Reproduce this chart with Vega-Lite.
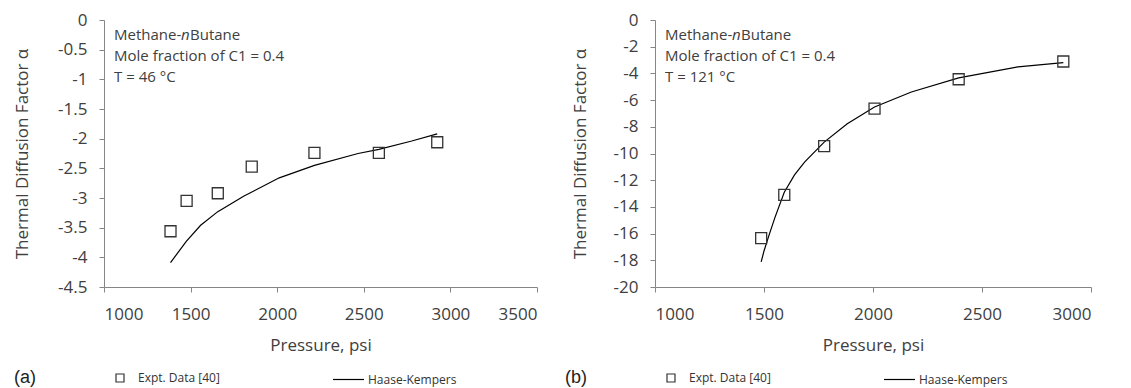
{
  "$schema": "https://vega.github.io/schema/vega-lite/v6.json",
  "padding": {"left": 13, "top": 11, "right": 3, "bottom": 0},
  "background": "white",
  "spacing": 27,
  "config": {
    "view": {"stroke": null},
    "font": "Open Sans",
    "axis": {
      "grid": false,
      "domainColor": "#868686",
      "tickColor": "#868686",
      "tickSize": 5,
      "labelFont": "Open Sans",
      "labelFontSize": 17,
      "labelColor": "#404040",
      "titleFont": "Open Sans",
      "titleFontSize": 17,
      "titleFontWeight": "normal",
      "titleColor": "#404040"
    },
    "legend": {
      "labelFont": "Open Sans",
      "labelFontSize": 12,
      "labelColor": "#333333",
      "titleFont": "Liberation Sans",
      "titleFontSize": 18,
      "titleFontWeight": "normal",
      "titleColor": "#222222"
    }
  },
  "resolve": {"scale": {"shape": "independent", "color": "independent"}, "legend": {"shape": "independent", "color": "independent"}},
  "datasets": {
    "ptsA": [
      {"p": 1384, "a": -3.56, "s": "Expt. Data [40]"},
      {"p": 1477, "a": -3.05, "s": "Expt. Data [40]"},
      {"p": 1657, "a": -2.92, "s": "Expt. Data [40]"},
      {"p": 1853, "a": -2.47, "s": "Expt. Data [40]"},
      {"p": 2215, "a": -2.24, "s": "Expt. Data [40]"},
      {"p": 2587, "a": -2.24, "s": "Expt. Data [40]"},
      {"p": 2924, "a": -2.06, "s": "Expt. Data [40]"}
    ],
    "lineA": [
      {"p": 1384, "a": -4.09, "s": "Haase-Kempers"},
      {"p": 1475, "a": -3.73, "s": "Haase-Kempers"},
      {"p": 1558, "a": -3.46, "s": "Haase-Kempers"},
      {"p": 1657, "a": -3.23, "s": "Haase-Kempers"},
      {"p": 1806, "a": -2.97, "s": "Haase-Kempers"},
      {"p": 2012, "a": -2.66, "s": "Haase-Kempers"},
      {"p": 2215, "a": -2.45, "s": "Haase-Kempers"},
      {"p": 2467, "a": -2.25, "s": "Haase-Kempers"},
      {"p": 2587, "a": -2.18, "s": "Haase-Kempers"},
      {"p": 2777, "a": -2.04, "s": "Haase-Kempers"},
      {"p": 2924, "a": -1.92, "s": "Haase-Kempers"}
    ],
    "annA": [
      {"p": 1058, "a": -0.253, "t": "Methane-", "part": "a"},
      {"p": 1058, "a": -0.253, "t": "n", "part": "b"},
      {"p": 1058, "a": -0.253, "t": "Butane", "part": "c"},
      {"p": 1058, "a": -0.607, "t": "Mole fraction of C1 = 0.4", "part": "a"},
      {"p": 1058, "a": -0.961, "t": "T = 46 °C", "part": "a"}
    ],
    "ptsB": [
      {"p": 1487, "a": -16.34, "s": "Expt. Data [40]"},
      {"p": 1593, "a": -13.1, "s": "Expt. Data [40]"},
      {"p": 1776, "a": -9.45, "s": "Expt. Data [40]"},
      {"p": 2007, "a": -6.64, "s": "Expt. Data [40]"},
      {"p": 2393, "a": -4.44, "s": "Expt. Data [40]"},
      {"p": 2873, "a": -3.11, "s": "Expt. Data [40]"}
    ],
    "lineB": [
      {"p": 1487, "a": -18.12, "s": "Haase-Kempers"},
      {"p": 1500, "a": -17.3, "s": "Haase-Kempers"},
      {"p": 1522, "a": -16.17, "s": "Haase-Kempers"},
      {"p": 1550, "a": -14.8, "s": "Haase-Kempers"},
      {"p": 1593, "a": -12.9, "s": "Haase-Kempers"},
      {"p": 1640, "a": -11.6, "s": "Haase-Kempers"},
      {"p": 1686, "a": -10.65, "s": "Haase-Kempers"},
      {"p": 1776, "a": -9.15, "s": "Haase-Kempers"},
      {"p": 1882, "a": -7.77, "s": "Haase-Kempers"},
      {"p": 2007, "a": -6.52, "s": "Haase-Kempers"},
      {"p": 2176, "a": -5.39, "s": "Haase-Kempers"},
      {"p": 2393, "a": -4.34, "s": "Haase-Kempers"},
      {"p": 2665, "a": -3.51, "s": "Haase-Kempers"},
      {"p": 2873, "a": -3.2, "s": "Haase-Kempers"}
    ],
    "annB": [
      {"p": 1046, "a": -1.12, "t": "Methane-", "part": "a"},
      {"p": 1046, "a": -1.12, "t": "n", "part": "b"},
      {"p": 1046, "a": -1.12, "t": "Butane", "part": "c"},
      {"p": 1046, "a": -2.70, "t": "Mole fraction of C1 = 0.4", "part": "a"},
      {"p": 1046, "a": -4.27, "t": "T = 121 °C", "part": "a"}
    ]
  },
  "hconcat": [
    {
      "width": 433,
      "height": 267,
      "encoding": {
        "x": {"field": "p", "type": "quantitative", "scale": {"domain": [1000, 3500], "nice": false}, "axis": {"title": "Pressure, psi", "values": [1000, 1500, 2000, 2500, 3000, 3500], "labelExpr": "format(datum.value, 'd')", "labelPadding": 14, "titlePadding": 15}},
        "y": {"field": "a", "type": "quantitative", "scale": {"domain": [-4.5, 0], "nice": false}, "axis": {"title": "Thermal Diffusion Factor α", "values": [0, -0.5, -1, -1.5, -2, -2.5, -3, -3.5, -4, -4.5], "labelExpr": "replace(format(datum.value, '~g'), '−', '-')", "labelPadding": 12, "titleX": -72.5}}
      },
      "layer": [
        {
          "data": {"name": "lineA"},
          "mark": {"type": "line", "color": "black", "strokeWidth": 1.2},
          "encoding": {
            "color": {"field": "s", "type": "nominal", "scale": {"range": ["black"]}, "legend": {"title": null, "orient": "none", "legendX": 228, "legendY": 343, "symbolType": "stroke", "symbolSize": 961, "symbolStrokeWidth": 1.2, "labelOffset": 3}}
          }
        },
        {
          "data": {"name": "ptsA"},
          "mark": {"type": "point", "shape": "square", "size": 121, "filled": false, "color": "#333333", "strokeWidth": 1.3, "opacity": 1},
          "encoding": {
            "shape": {"field": "s", "type": "nominal", "scale": {"range": ["square"]}, "legend": {"title": "(a)", "titleOrient": "left", "titlePadding": 78, "orient": "none", "legendX": -90, "legendY": 352, "symbolSize": 64, "symbolStrokeColor": "#333333", "symbolFillColor": "transparent", "symbolStrokeWidth": 1.2, "labelOffset": 12}}
          }
        },
        {
          "data": {"name": "annA"},
          "transform": [{"filter": "datum.part == 'a'"}],
          "mark": {"type": "text", "align": "left", "baseline": "middle", "font": "Open Sans", "fontSize": 15, "color": "#404040"},
          "encoding": {"text": {"field": "t"}}
        },
        {
          "data": {"name": "annA"},
          "transform": [{"filter": "datum.part == 'b'"}],
          "mark": {"type": "text", "align": "left", "baseline": "middle", "font": "Open Sans", "fontSize": 15, "fontStyle": "italic", "color": "#404040", "dx": 67},
          "encoding": {"text": {"field": "t"}}
        },
        {
          "data": {"name": "annA"},
          "transform": [{"filter": "datum.part == 'c'"}],
          "mark": {"type": "text", "align": "left", "baseline": "middle", "font": "Open Sans", "fontSize": 15, "color": "#404040", "dx": 76},
          "encoding": {"text": {"field": "t"}}
        }
      ]
    },
    {
      "width": 436,
      "height": 267,
      "encoding": {
        "x": {"field": "p", "type": "quantitative", "scale": {"domain": [1000, 3000], "nice": false}, "axis": {"title": "Pressure, psi", "values": [1000, 1500, 2000, 2500, 3000], "labelExpr": "format(datum.value, 'd')", "labelPadding": 14, "titlePadding": 15}},
        "y": {"field": "a", "type": "quantitative", "scale": {"domain": [-20, 0], "nice": false}, "axis": {"title": "Thermal Diffusion Factor α", "values": [0, -2, -4, -6, -8, -10, -12, -14, -16, -18, -20], "labelExpr": "replace(format(datum.value, '~g'), '−', '-')", "labelPadding": 12, "titleX": -65.5}}
      },
      "layer": [
        {
          "data": {"name": "lineB"},
          "mark": {"type": "line", "color": "black", "strokeWidth": 1.2},
          "encoding": {
            "color": {"field": "s", "type": "nominal", "scale": {"range": ["black"]}, "legend": {"title": null, "orient": "none", "legendX": 228, "legendY": 343, "symbolType": "stroke", "symbolSize": 961, "symbolStrokeWidth": 1.2, "labelOffset": 3}}
          }
        },
        {
          "data": {"name": "ptsB"},
          "mark": {"type": "point", "shape": "square", "size": 121, "filled": false, "color": "#333333", "strokeWidth": 1.3, "opacity": 1},
          "encoding": {
            "shape": {"field": "s", "type": "nominal", "scale": {"range": ["square"]}, "legend": {"title": "(b)", "titleOrient": "left", "titlePadding": 78, "orient": "none", "legendX": -90, "legendY": 352, "symbolSize": 64, "symbolStrokeColor": "#333333", "symbolFillColor": "transparent", "symbolStrokeWidth": 1.2, "labelOffset": 12}}
          }
        },
        {
          "data": {"name": "annB"},
          "transform": [{"filter": "datum.part == 'a'"}],
          "mark": {"type": "text", "align": "left", "baseline": "middle", "font": "Open Sans", "fontSize": 15, "color": "#404040"},
          "encoding": {"text": {"field": "t"}}
        },
        {
          "data": {"name": "annB"},
          "transform": [{"filter": "datum.part == 'b'"}],
          "mark": {"type": "text", "align": "left", "baseline": "middle", "font": "Open Sans", "fontSize": 15, "fontStyle": "italic", "color": "#404040", "dx": 67},
          "encoding": {"text": {"field": "t"}}
        },
        {
          "data": {"name": "annB"},
          "transform": [{"filter": "datum.part == 'c'"}],
          "mark": {"type": "text", "align": "left", "baseline": "middle", "font": "Open Sans", "fontSize": 15, "color": "#404040", "dx": 76},
          "encoding": {"text": {"field": "t"}}
        }
      ]
    }
  ]
}
